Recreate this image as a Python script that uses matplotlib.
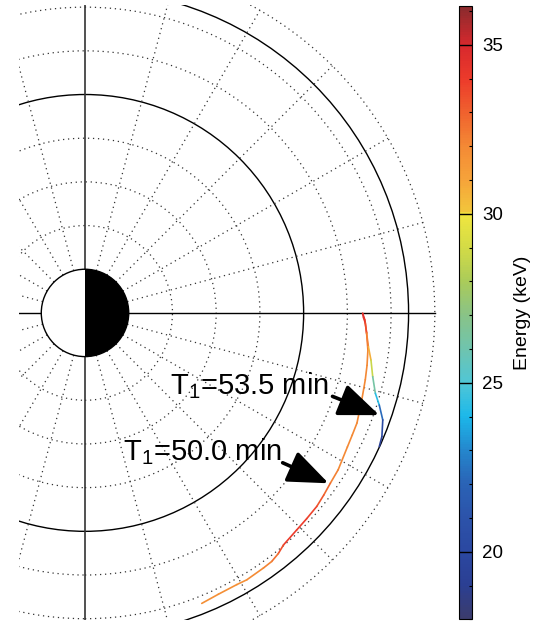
import numpy as np
import matplotlib
matplotlib.use("Agg")
import matplotlib.pyplot as plt
from matplotlib.patches import Circle, Wedge
from matplotlib.collections import LineCollection
from matplotlib.colors import LinearSegmentedColormap, Normalize
from matplotlib.cm import ScalarMappable
from matplotlib.ticker import MultipleLocator

plt.rcParams["font.family"] = ["Liberation Sans", "DejaVu Sans"]
plt.rcParams["mathtext.fontset"] = "custom"
plt.rcParams["mathtext.rm"] = "Liberation Sans"
plt.rcParams["mathtext.it"] = "Liberation Sans"

### 1. trajectories (R_E) and energy along them (keV)
## T1 = 53.5 min
x_a = [6.35, 6.37, 6.41, 6.44, 6.48, 6.54, 6.58, 6.64, 6.73, 6.81, 6.79, 6.73]
y_a = [-0.01, -0.11, -0.23, -0.46, -0.77, -1.08, -1.46, -1.84, -2.11, -2.45, -2.83, -3.06]
e_a = [34.8, 34.5, 34.0, 33.0, 31.5, 30.0, 27.5, 25.0, 23.5, 21.0, 19.5, 19.0]

## T1 = 50.0 min
x_b = [6.35, 6.40, 6.44, 6.47, 6.45, 6.41, 6.33, 6.22, 6.11, 6.00, 5.79, 5.61, 5.46,
       5.30, 5.07, 4.84, 4.54, 4.42, 4.27, 4.08, 3.70, 3.47, 3.05, 2.67]
y_b = [-0.01, -0.16, -0.46, -0.85, -1.20, -1.53, -1.99, -2.52, -2.80, -3.07, -3.59,
       -3.90, -4.17, -4.43, -4.71, -4.97, -5.31, -5.51, -5.69, -5.84, -6.11, -6.22,
       -6.44, -6.65]
e_b = [34.5, 34.0, 33.0, 32.0, 32.0, 32.0, 32.0, 32.0, 32.0, 32.0, 32.0, 32.5, 33.0,
       33.5, 34.0, 34.0, 34.0, 33.0, 32.3, 32.0, 31.8, 31.8, 31.8, 31.8]

labels = ["T$_1$=53.5 min", "T$_1$=50.0 min"]

### 2. colour table
e_min, e_max = 18.0, 36.15
stops = [(18.0, "#3b3c6c"), (19.0, "#2b3f93"), (20.0, "#2b48a1"), (21.0, "#2c53aa"),
         (22.0, "#2a63b6"), (23.0, "#2487cd"), (24.0, "#1cb8ea"), (25.0, "#50c6d6"),
         (26.0, "#6fc4ae"), (27.0, "#89c387"), (28.0, "#aacb5a"), (29.0, "#d3db46"),
         (30.0, "#f0e63f"), (30.1, "#f2c53b"), (31.0, "#f6a43a"), (32.0, "#f48a35"),
         (33.0, "#f0622e"), (34.0, "#ec3b2b"), (35.0, "#d8292d"), (36.15, "#8a2a2d")]
cmap = LinearSegmentedColormap.from_list(
    "energy", [((e - e_min) / (e_max - e_min), c) for e, c in stops])
norm = Normalize(vmin=e_min, vmax=e_max)

### 3. figure
fig = plt.figure(figsize=(5.47, 6.21), dpi=100)
ax = fig.add_axes([0.0355, 0.0016, 0.7634, 0.9897])
ax.set_xlim(-1.5, 8.05)
ax.set_ylim(-7.03, 7.04)
ax.axis("off")

dot = (0, (1, 3))
## dotted grid: circles every R_E, radial lines every 15 deg
for r in [2, 3, 4, 6, 7, 8]:
    ax.add_patch(Circle((0, 0), r, fill=False, ls=dot, lw=0.9, ec="#333333"))
for ang in range(0, 360, 15):
    if ang % 90 == 0:
        continue
    t = np.radians(ang)
    ax.plot([np.cos(t), 8 * np.cos(t)], [np.sin(t), 8 * np.sin(t)],
            ls=dot, lw=0.9, color="#333333")

## solid circles
for r in [5, 7.4]:
    ax.add_patch(Circle((0, 0), r, fill=False, lw=1.0, ec="black"))

ax.plot([-1.5, 8], [0, 0], color="black", lw=1.0)
ax.axvline(0, color="#333333", lw=1.2)

## earth: day side white, night side black
ax.add_patch(Wedge((0, 0), 1, 90, 270, fc="white", ec="none", zorder=5))
ax.add_patch(Wedge((0, 0), 1, -90, 90, fc="black", ec="none", zorder=5))
ax.add_patch(Circle((0, 0), 1, fill=False, ec="black", lw=1.0, zorder=6))

## energy-coloured trajectories
def draw_track(x, y, e):
    pts = np.column_stack([x, y])
    segs = np.stack([pts[:-1], pts[1:]], axis=1)
    e = np.asarray(e)
    lc = LineCollection(segs, cmap=cmap, norm=norm, lw=1.2, capstyle="round",
                        joinstyle="round", zorder=4)
    lc.set_array((e[:-1] + e[1:]) / 2)
    ax.add_collection(lc)

draw_track(x_b, y_b, e_b)
draw_track(x_a, y_a, e_a)

## labels with arrows
arrow = dict(arrowstyle="-|>,head_length=1.25,head_width=0.5", mutation_scale=20,
             lw=2.6, color="black", shrinkA=0, shrinkB=0)
ax.text(1.95, -1.85, labels[0], fontsize=21, va="baseline", ha="left", zorder=7)
ax.annotate("", xy=(6.73, -2.34), xytext=(5.66, -1.91), arrowprops=arrow, zorder=7)
ax.text(0.87, -3.38, labels[1], fontsize=21, va="baseline", ha="left", zorder=7)
ax.annotate("", xy=(5.57, -3.90), xytext=(4.52, -3.43), arrowprops=arrow, zorder=7)

### 4. colour bar
cax = fig.add_axes([0.8397, 0.0027, 0.0238, 0.9876])
cb = fig.colorbar(ScalarMappable(norm=norm, cmap=cmap), cax=cax)
cb.set_ticks([20, 25, 30, 35])
cb.ax.yaxis.set_minor_locator(MultipleLocator(1))
cb.ax.tick_params(which="major", direction="in", length=9.5, width=1.0,
                  labelsize=13.5, pad=7)
cb.ax.tick_params(which="minor", direction="in", length=2.5, width=0.8)
cb.outline.set_linewidth(0.8)
cb.set_label("Energy (keV)", fontsize=14, labelpad=8)

plt.savefig("out.png", dpi=100)
